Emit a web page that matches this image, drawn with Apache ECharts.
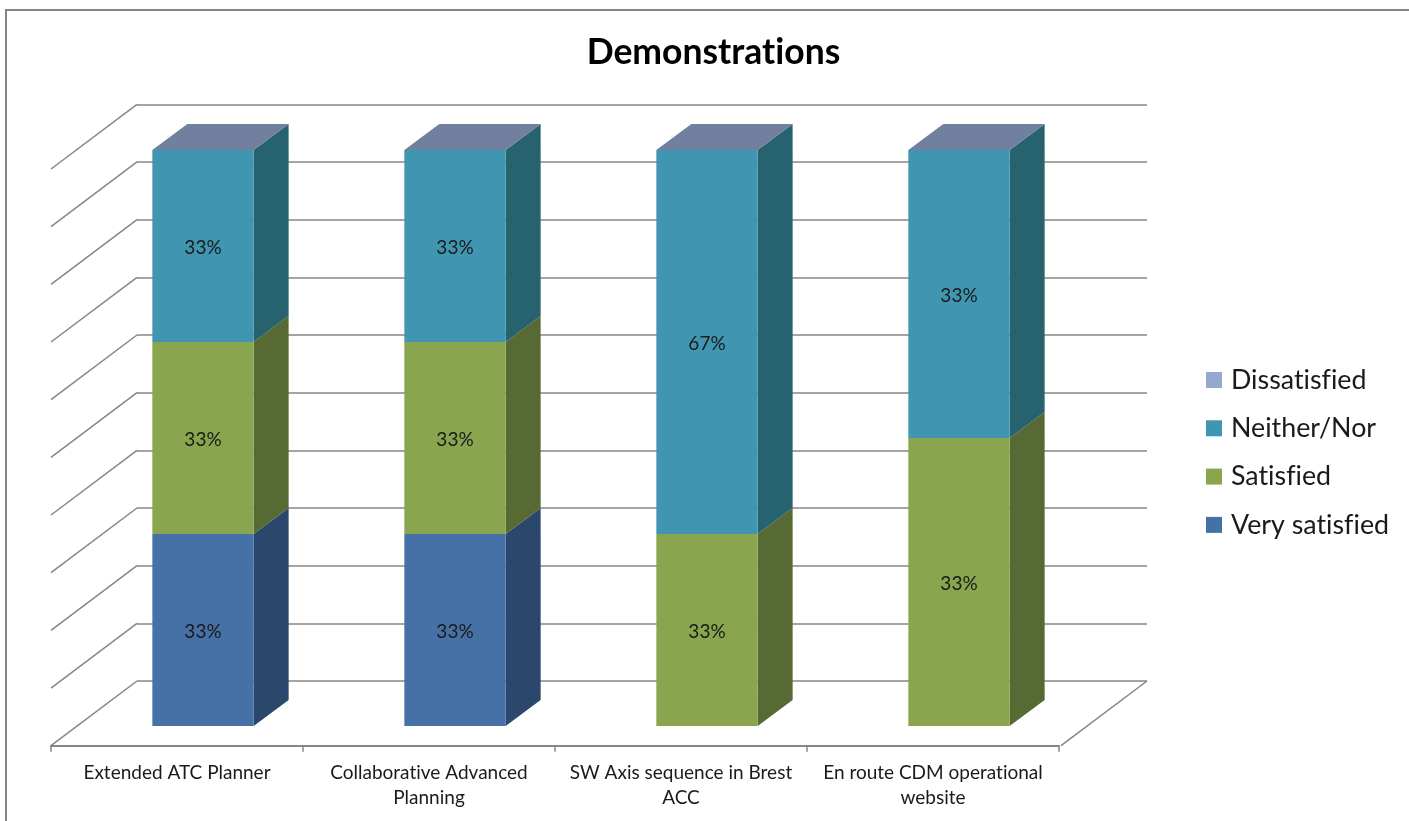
<!DOCTYPE html>
<html>
<head>
<meta charset="utf-8">
<style>html,body{margin:0;padding:0;background:#fff;overflow:hidden}#c{width:1409px;height:821px}</style>
<script src="https://cdn.jsdelivr.net/npm/echarts@6/dist/echarts.min.js"></script>
</head>
<body>
<div id="c"></div>
<script>
const titleText = 'Demonstrations';
const categories = ['Extended ATC Planner', 'Collaborative Advanced\nPlanning', 'SW Axis sequence in Brest\nACC', 'En route CDM operational\nwebsite'];
const yTicks = [0, 10, 20, 30, 40, 50, 60, 70, 80, 90, 100];

const verySatisfied = [33.33, 33.33, 0, 0];
const satisfied = [33.33, 33.33, 33.33, 50];
const neitherNor = [33.33, 33.33, 66.67, 50];
const dissatisfied = [0, 0, 0, 0];

const verySatisfiedLabels = ['33%', '33%', '', ''];
const satisfiedLabels = ['33%', '33%', '33%', '33%'];
const neitherNorLabels = ['33%', '33%', '67%', '33%'];
const dissatisfiedLabels = ['', '', '', ''];

const FONT = 'Lato, "Open Sans", sans-serif';
const GRIDLINE = '#868686';
const BACK = {left: 137, top: 104.3, width: 1010, height: 576.7};
const FRONT = {left: 51, top: 169, width: 1008, height: 576.7};
const BARS = {left: 77, top: 150, width: 1008, height: 576};
const DEPTH = {dx: 35, dy: -26};

const stackDefs = [
  {name: 'Very satisfied', values: verySatisfied, labels: verySatisfiedLabels, color: '#4571a6', side: '#2b486c'},
  {name: 'Satisfied', values: satisfied, labels: satisfiedLabels, color: '#89a54e', side: '#586a33'},
  {name: 'Neither/Nor', values: neitherNor, labels: neitherNorLabels, color: '#4096b1', side: '#27626f'},
  {name: 'Dissatisfied', values: dissatisfied, labels: dissatisfiedLabels, color: '#95a8cf', side: '#5f6d88', top: '#71809e'}
];

const running = categories.map(() => 0);
const barSeries = stackDefs.map(def => {
  const data = def.values.map((v, i) => {
    const base = running[i];
    running[i] += v;
    return [i, base, base + v];
  });
  return {
    type: 'custom', name: def.name, xAxisIndex: 2, yAxisIndex: 2, z: 5,
    itemStyle: {color: def.color}, silent: true,
    encode: {x: 0, y: [1, 2]},
    data,
    renderItem(params, api) {
      const i = api.value(0), lo = api.value(1), hi = api.value(2);
      const a = api.coord([i, lo]), b = api.coord([i, hi]);
      const w = api.size([1, 0])[0] * 0.402;
      const x0 = a[0] - w / 2, x1 = a[0] + w / 2;
      const {dx, dy} = DEPTH;
      const kids = [];
      if (hi > lo) {
        kids.push({type: 'polygon', shape: {points: [[x1, a[1]], [x1 + dx, a[1] + dy], [x1 + dx, b[1] + dy], [x1, b[1]]]}, style: {fill: def.side}});
        kids.push({type: 'rect', shape: {x: x0, y: b[1], width: w, height: a[1] - b[1]}, style: {fill: def.color}});
      }
      if (def.top) {
        kids.push({type: 'polygon', shape: {points: [[x0, b[1]], [x1, b[1]], [x1 + dx, b[1] + dy], [x0 + dx, b[1] + dy]]}, style: {fill: def.top}});
      }
      const label = def.labels[i];
      if (label) {
        kids.push({type: 'text', z2: 10, style: {text: label, x: a[0], y: (a[1] + b[1]) / 2 + 1.5, align: 'center', verticalAlign: 'middle', font: '19px ' + FONT, fill: '#1a1a1a'}});
      }
      return {type: 'group', children: kids};
    }
  };
});

const wallSeries = {
  type: 'custom', xAxisIndex: 0, yAxisIndex: 0, silent: true, z: 2,
  encode: {x: 0, y: 1},
  data: yTicks.map(v => [0, v]).concat([[1, 0]]),
  renderItem(params, api) {
    const p = api.coord([api.value(0), api.value(1)]);
    return {type: 'line',
      shape: {x1: p[0], y1: p[1], x2: p[0] + FRONT.left - BACK.left, y2: p[1] + FRONT.top - BACK.top},
      style: {stroke: GRIDLINE, lineWidth: 1.5}};
  }
};

const option = {
  animation: false,
  backgroundColor: '#fff',
  title: {text: titleText, left: 713.5, top: 35, textAlign: 'center', padding: 0,
    textStyle: {fontFamily: FONT, fontWeight: 'bold', fontSize: 35.5, color: '#000'}},
  legend: {
    orient: 'vertical', left: 1206, top: 366, padding: 0, itemWidth: 16, itemHeight: 16, itemGap: 20.3, icon: 'rect',
    data: ['Dissatisfied', 'Neither/Nor', 'Satisfied', 'Very satisfied'],
    selectedMode: false,
    textStyle: {fontFamily: FONT, fontSize: 26.8, lineHeight: 28, color: '#1a1a1a', padding: [0, 0, 0, 4]}
  },
  grid: [
    {left: BACK.left, top: BACK.top, width: BACK.width, height: BACK.height},
    {left: FRONT.left, top: FRONT.top, width: FRONT.width, height: FRONT.height},
    {left: BARS.left, top: BARS.top, width: BARS.width, height: BARS.height}
  ],
  xAxis: [
    {gridIndex: 0, type: 'value', min: 0, max: 1, show: false},
    {gridIndex: 1, type: 'category', data: categories, boundaryGap: true,
      axisLine: {show: true, lineStyle: {color: GRIDLINE, width: 2}},
      axisTick: {show: true, length: 6, lineStyle: {color: GRIDLINE, width: 1.5}},
      axisLabel: {interval: 0, margin: 15, fontFamily: FONT, fontSize: 19, lineHeight: 25, color: '#1a1a1a'}},
    {gridIndex: 2, type: 'category', data: categories, show: false}
  ],
  yAxis: [
    {gridIndex: 0, type: 'value', min: 0, max: 100, interval: 10,
      axisLine: {show: false}, axisTick: {show: false}, axisLabel: {show: false},
      splitLine: {show: true, lineStyle: {color: GRIDLINE, width: 1.5, type: 'solid'}}},
    {gridIndex: 1, type: 'value', min: 0, max: 100, show: false, splitLine: {show: false}},
    {gridIndex: 2, type: 'value', min: 0, max: 100, show: false, splitLine: {show: false}}
  ],
  graphic: [
    {type: 'polyline', silent: true, shape: {points: [[6, 821], [6, 10], [1409, 10]]},
      style: {stroke: GRIDLINE, lineWidth: 2, fill: null}}
  ],
  series: [wallSeries].concat(barSeries)
};

const chart = echarts.init(document.getElementById('c'), null, {renderer: 'canvas'});
chart.setOption(option);
// The reference font has no fi/ti ligatures: switch them off on the drawing canvas, then draw again.
chart.getDom().querySelectorAll('canvas').forEach(cv => {
  cv.getContext('2d').textRendering = 'optimizeSpeed';
});
chart.setOption(option, true);
</script>
</body>
</html>
